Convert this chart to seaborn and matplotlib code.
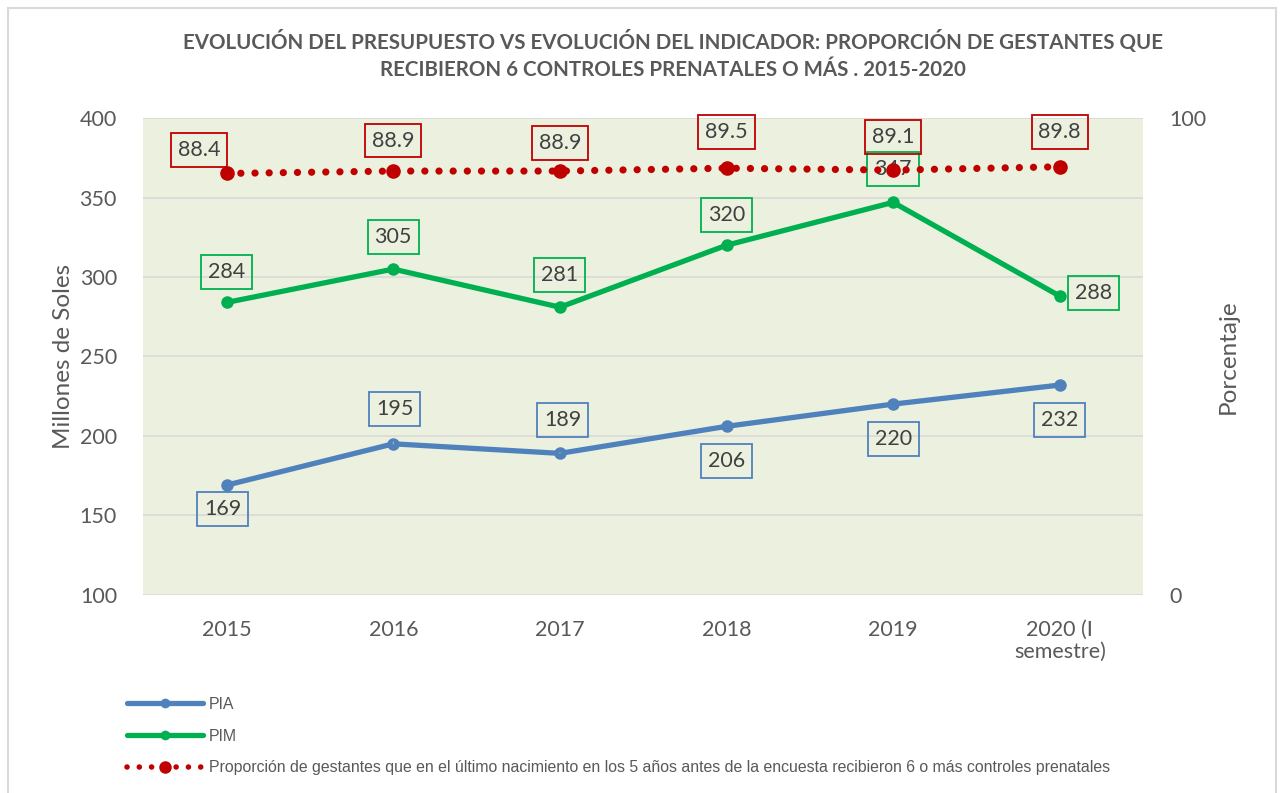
import matplotlib
matplotlib.use("Agg")
import matplotlib.pyplot as plt
import seaborn as sns
import pandas as pd
from matplotlib.lines import Line2D

sns.set_style("white")
plt.rcParams['font.family'] = ['Lato', 'DejaVu Sans']

# data
years = ['2015', '2016', '2017', '2018', '2019', '2020 (I\nsemestre)']
pia = [169, 195, 189, 206, 220, 232]
pim = [284, 305, 281, 320, 347, 288]
proporcion = [88.4, 88.9, 88.9, 89.5, 89.1, 89.8]

# label offsets (points) for the data label boxes
pia_off = [(-3, -17), (1, 25), (2, 24), (0, -25), (0, -25), (0, -25)]
pim_off = [(0, 22), (0, 23), (0, 23), (0, 22), (0, 24), (24, 2)]
prop_off = [(-20, 17), (0, 22), (0, 20), (0, 26), (0, 24), (0, 25)]
pia_leader = [False, True, True, False, False, False]

df = pd.DataFrame({'x': range(len(years)), 'PIA': pia, 'PIM': pim, 'prop': proporcion})

blue = '#4F81BD'
green = '#00B050'
red = '#C00000'
txt = '#595959'

fig = plt.figure(figsize=(12.8, 7.93), dpi=100)
ax = fig.add_axes([0.112, 0.250, 0.781, 0.601])
ax.set_facecolor('#EBF1DE')
ax2 = ax.twinx()

sns.lineplot(data=df, x='x', y='PIA', ax=ax, color=blue, linewidth=3.8,
             marker='o', markersize=9, markeredgewidth=0, zorder=3)
sns.lineplot(data=df, x='x', y='PIM', ax=ax, color=green, linewidth=3.8,
             marker='o', markersize=9, markeredgewidth=0, zorder=3)
sns.lineplot(data=df, x='x', y='prop', ax=ax2, color=red, linewidth=5.2,
             linestyle=(0, (0.01, 1.95)), dash_capstyle='round',
             marker='o', markersize=10.5, markeredgewidth=0, zorder=3)

ax.set_ylim(100, 400)
ax.set_yticks(range(100, 401, 50))
ax2.set_ylim(0, 100)
ax2.set_yticks([0, 100])
ax.set_xlim(-0.5, len(years) - 0.5)
ax.set_xticks(range(len(years)))
ax.set_xticklabels(years, fontsize=15.5, color=txt, linespacing=1.15)
ax.tick_params(axis='y', labelsize=15.5, labelcolor=txt, length=0, pad=19)
ax.tick_params(axis='x', length=0, pad=18)
ax2.tick_params(axis='y', labelsize=15.5, labelcolor=txt, length=0, pad=19)
ax.grid(axis='y', color='#D9D9D9', linewidth=1.2)
ax.set_axisbelow(True)
for a in (ax, ax2):
    for s in a.spines.values():
        s.set_visible(False)
ax.set_xlabel('')
ax.set_ylabel('Millones de Soles', fontsize=17.5, color=txt, labelpad=4)
ax2.set_ylabel('Porcentaje', fontsize=17.5, color=txt, labelpad=8)

def box_labels(axis, values, offsets, color, fmt, leaders=None):
    for i, (v, off) in enumerate(zip(values, offsets)):
        arrow = None
        if leaders is not None and leaders[i]:
            arrow = dict(arrowstyle='-', color='#A6A6A6', linewidth=1, shrinkA=11, shrinkB=4)
        axis.annotate(fmt.format(v), (i, v), xytext=off, textcoords='offset points',
                      ha='center', va='center', fontsize=15.5, color='#404040', zorder=5,
                      arrowprops=arrow,
                      bbox=dict(boxstyle='square,pad=0.32', facecolor='none',
                                edgecolor=color, linewidth=1.3))

box_labels(ax, pia, pia_off, blue, '{:d}', pia_leader)
box_labels(ax, pim, pim_off, green, '{:d}')
box_labels(ax2, proporcion, prop_off, red, '{:.1f}')

fig.suptitle('EVOLUCIÓN DEL PRESUPUESTO VS EVOLUCIÓN DEL INDICADOR: PROPORCIÓN DE GESTANTES QUE\n'
             'RECIBIERON 6 CONTROLES PRENATALES O MÁS . 2015-2020',
             x=0.526, y=0.962, fontsize=14.8, fontweight='bold', color=txt, linespacing=1.45)

handles = [
    Line2D([], [], color=blue, linewidth=3.8, marker='o', markersize=7, markeredgewidth=0),
    Line2D([], [], color=green, linewidth=3.8, marker='o', markersize=7, markeredgewidth=0),
    Line2D([], [], color=red, linewidth=4, linestyle=(0, (0.01, 2.2)), dash_capstyle='round',
           marker='o', markersize=9, markeredgewidth=0),
]
labels = ['PIA', 'PIM',
          'Proporción de gestantes que en el último nacimiento en los 5 años antes de la encuesta '
          'recibieron 6 o más controles prenatales']
leg = fig.legend(handles, labels, loc='upper left', bbox_to_anchor=(0.088, 0.139),
                 frameon=False, handlelength=4.8, labelspacing=1.05, handletextpad=0.4,
                 prop={'family': ['Liberation Sans', 'DejaVu Sans'], 'size': 11.4})
for t in leg.get_texts():
    t.set_color(txt)

# outer chart frame
frame = plt.Rectangle((8 / 1280, -0.05), 1268 / 1280, 1.05 - 8 / 793, transform=fig.transFigure,
                      fill=False, edgecolor='#D9D9D9', linewidth=1.5)
fig.patches.append(frame)

fig.savefig('out.png', dpi=100, facecolor='white')
